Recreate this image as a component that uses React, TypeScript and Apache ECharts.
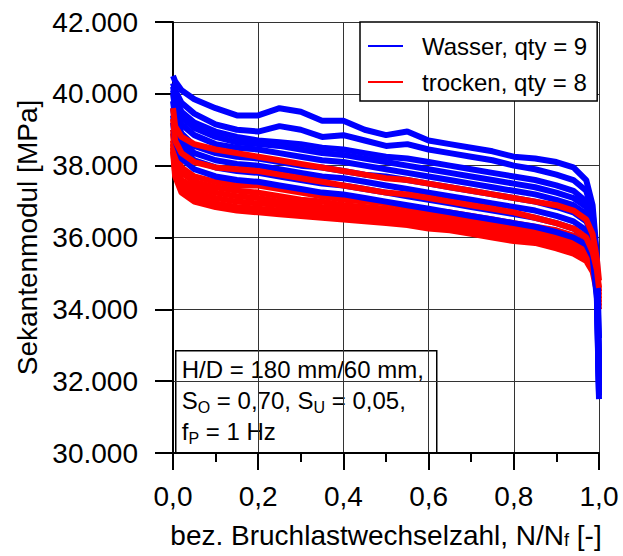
import React, { useEffect, useRef } from "react";
import * as echarts from "echarts";

// Relative load cycle N/Nf (x positions of read-off points)
const xPoints = [0, 0.005, 0.02, 0.05, 0.1, 0.15, 0.2, 0.25, 0.3, 0.35, 0.4, 0.45, 0.5, 0.55, 0.6, 0.65, 0.7, 0.75, 0.8, 0.85, 0.9, 0.94, 0.97, 0.985, 0.995, 1.0];

// Secant modulus in 1000 MPa – "Wasser" specimens (9)
const wasser1 = [40.5, 40.35, 40.1, 39.85, 39.6, 39.4, 39.4, 39.6, 39.5, 39.25, 39.25, 39.0, 38.85, 38.95, 38.7, 38.6, 38.5, 38.4, 38.25, 38.2, 38.1, 37.95, 37.6, 36.9, 35.5, 33.2];
const wasser2 = [40.3, 40.1, 39.75, 39.45, 39.15, 39.0, 38.95, 39.1, 39.0, 38.8, 38.85, 38.7, 38.55, 38.6, 38.45, 38.35, 38.25, 38.15, 38.0, 37.9, 37.75, 37.6, 37.3, 36.7, 35.3, 32.6];
const wasser3 = [40.2, 39.9, 39.5, 39.2, 38.95, 38.8, 38.7, 38.65, 38.6, 38.5, 38.45, 38.35, 38.25, 38.2, 38.1, 38.0, 37.9, 37.8, 37.7, 37.6, 37.45, 37.3, 37.0, 36.5, 35.2, 32.3];
const wasser4 = [40.1, 39.8, 39.35, 39.05, 38.8, 38.65, 38.6, 38.55, 38.45, 38.35, 38.3, 38.2, 38.1, 38.0, 37.9, 37.8, 37.7, 37.6, 37.5, 37.4, 37.25, 37.1, 36.85, 36.4, 35.1, 32.2];
const wasser5 = [40.0, 39.6, 39.15, 38.85, 38.6, 38.5, 38.45, 38.35, 38.25, 38.15, 38.1, 38.0, 37.9, 37.8, 37.7, 37.6, 37.5, 37.4, 37.3, 37.2, 37.05, 36.9, 36.65, 36.25, 35.0, 32.1];
const wasser6 = [39.8, 39.35, 38.9, 38.55, 38.35, 38.25, 38.2, 38.1, 38.0, 37.95, 37.85, 37.75, 37.7, 37.6, 37.5, 37.4, 37.3, 37.2, 37.1, 37.0, 36.85, 36.7, 36.45, 36.1, 34.8, 31.9];
const wasser7 = [39.6, 39.15, 38.7, 38.35, 38.15, 38.05, 38.0, 37.9, 37.8, 37.7, 37.65, 37.55, 37.45, 37.35, 37.25, 37.15, 37.05, 36.95, 36.85, 36.75, 36.6, 36.45, 36.2, 35.85, 34.6, 31.7];
const wasser8 = [39.4, 38.95, 38.5, 38.15, 37.95, 37.85, 37.8, 37.7, 37.6, 37.5, 37.45, 37.35, 37.25, 37.15, 37.05, 36.95, 36.85, 36.75, 36.65, 36.55, 36.4, 36.25, 36.0, 35.65, 34.4, 31.6];
const wasser9 = [39.2, 38.7, 38.2, 37.9, 37.7, 37.6, 37.55, 37.45, 37.35, 37.25, 37.2, 37.1, 37.0, 36.9, 36.8, 36.7, 36.6, 36.5, 36.4, 36.3, 36.15, 36.0, 35.8, 35.45, 34.3, 31.5];

// Secant modulus in 1000 MPa – "trocken" specimens (8)
const trocken1 = [39.6, 39.1, 38.8, 38.6, 38.45, 38.35, 38.25, 38.15, 38.05, 37.95, 37.85, 37.75, 37.65, 37.6, 37.5, 37.4, 37.3, 37.2, 37.1, 37.0, 36.9, 36.75, 36.5, 36.1, 35.4, 34.8];
const trocken2 = [39.3, 38.7, 38.35, 38.1, 37.95, 37.9, 37.85, 37.75, 37.65, 37.55, 37.45, 37.35, 37.25, 37.2, 37.1, 37.0, 36.9, 36.8, 36.7, 36.55, 36.4, 36.25, 36.0, 35.6, 35.1, 34.6];
const trocken3 = [39.0, 38.4, 37.95, 37.7, 37.55, 37.45, 37.45, 37.35, 37.25, 37.15, 37.05, 37.0, 36.95, 36.85, 36.75, 36.7, 36.6, 36.5, 36.4, 36.3, 36.2, 36.05, 35.85, 35.5, 35.0, 34.5];
const trocken4 = [38.9, 38.2, 37.8, 37.55, 37.4, 37.3, 37.25, 37.15, 37.05, 37.0, 36.9, 36.85, 36.8, 36.7, 36.65, 36.55, 36.5, 36.4, 36.3, 36.2, 36.05, 35.9, 35.7, 35.4, 34.9, 34.4];
const trocken5 = [38.7, 38.0, 37.6, 37.4, 37.25, 37.15, 37.1, 37.0, 36.95, 36.85, 36.8, 36.75, 36.7, 36.6, 36.55, 36.45, 36.4, 36.3, 36.2, 36.1, 35.95, 35.8, 35.6, 35.3, 34.8, 34.3];
const trocken6 = [38.6, 37.9, 37.5, 37.25, 37.1, 37.0, 36.95, 36.9, 36.8, 36.75, 36.7, 36.65, 36.6, 36.5, 36.45, 36.4, 36.3, 36.2, 36.1, 36.0, 35.85, 35.7, 35.5, 35.2, 34.7, 34.2];
const trocken7 = [38.5, 37.8, 37.35, 37.1, 36.95, 36.85, 36.8, 36.75, 36.7, 36.65, 36.6, 36.55, 36.5, 36.45, 36.35, 36.3, 36.2, 36.1, 36.0, 35.95, 35.8, 35.65, 35.45, 35.15, 34.6, 34.1];
const trocken8 = [38.4, 37.7, 37.25, 37.0, 36.85, 36.75, 36.7, 36.65, 36.6, 36.55, 36.5, 36.45, 36.4, 36.35, 36.25, 36.2, 36.1, 36.0, 35.9, 35.85, 35.7, 35.55, 35.35, 35.05, 34.5, 34.0];

// drawing order: lower "trocken" band, then all "Wasser", then the upper "trocken" curves
const trockenBelow = [trocken3, trocken4, trocken5, trocken6, trocken7, trocken8];
const wasserCurves = [wasser1, wasser2, wasser3, wasser4, wasser5, wasser6, wasser7, wasser8, wasser9];
const trockenAbove = [trocken1, trocken2];

const wasserName = "Wasser, qty = 9";
const trockenName = "trocken, qty = 8";

const FONT = "Arial, 'Liberation Sans', sans-serif";

export default function App() {
  const ref = useRef<HTMLDivElement>(null);

  useEffect(() => {
    if (!ref.current) return;
    const chart = echarts.init(ref.current, undefined, { renderer: "svg" });

    const mk = (name: string, color: string, ys: number[]) => ({
      name,
      type: "line",
      showSymbol: false,
      symbol: "none",
      data: xPoints.map((x, i) => [x, ys[i]]),
      lineStyle: { color, width: 6 },
      itemStyle: { color },
      emphasis: { disabled: true },
    });

    const series = [
      ...trockenBelow.map((c) => mk(trockenName, "#ff0000", c)),
      ...wasserCurves.map((c) => mk(wasserName, "#0000ff", c)),
      ...trockenAbove.map((c) => mk(trockenName, "#ff0000", c)),
    ];

    const subStyle = { fontSize: 16, fontFamily: FONT, color: "#000", verticalAlign: "bottom", lineHeight: 16 };
    const normStyle = { fontSize: 24, fontFamily: FONT, color: "#000", lineHeight: 31 };

    chart.setOption({
      animation: false,
      backgroundColor: "#fff",
      grid: { left: 173, right: 24, top: 22, bottom: 103, containLabel: false },
      legend: {
        left: 360,
        top: 22,
        orient: "vertical",
        selectedMode: false,
        backgroundColor: "#fff",
        borderColor: "#000",
        borderWidth: 1.5,
        borderRadius: 0,
        padding: [11, 10, 6, 8],
        itemGap: 10,
        itemWidth: 35,
        itemHeight: 2,
        icon: "rect",
        textStyle: { fontSize: 24, color: "#000", fontFamily: FONT, lineHeight: 26, padding: [0, 0, 0, 14] },
        data: [wasserName, trockenName],
        z: 20,
      },
      xAxis: {
        type: "value",
        min: 0,
        max: 1,
        interval: 0.2,
        name: "bez. Bruchlastwechselzahl, N/N{s|f} [-]",
        nameLocation: "middle",
        nameGap: 68,
        nameTextStyle: {
          fontSize: 28,
          fontFamily: FONT,
          color: "#000",
          verticalAlign: "top",
          rich: { s: { fontSize: 18, fontFamily: FONT, color: "#000", verticalAlign: "bottom", lineHeight: 16 } },
        },
        axisLine: { show: true, onZero: false, lineStyle: { color: "#000", width: 2 } },
        axisTick: { show: true, length: 17, lineStyle: { color: "#000", width: 2 } },
        minorTick: { show: true, splitNumber: 2, length: 9, lineStyle: { color: "#000", width: 2 } },
        axisLabel: {
          fontSize: 28,
          fontFamily: FONT,
          color: "#000",
          margin: 29,
          formatter: (v: number) => v.toFixed(1).replace(".", ","),
        },
        splitLine: { show: true, lineStyle: { color: "#333", width: 1 } },
      },
      yAxis: {
        type: "value",
        min: 30,
        max: 42,
        interval: 2,
        name: "Sekantenmodul [MPa]",
        nameLocation: "middle",
        nameGap: 128,
        nameRotate: 90,
        nameTextStyle: { fontSize: 28, fontFamily: FONT, color: "#000" },
        axisLine: { show: true, onZero: false, lineStyle: { color: "#000", width: 2 } },
        axisTick: { show: true, length: 18, lineStyle: { color: "#000", width: 2 } },
        axisLabel: {
          fontSize: 28,
          fontFamily: FONT,
          color: "#000",
          margin: 35,
          formatter: (v: number) => `${v}.000`,
        },
        splitLine: { show: true, lineStyle: { color: "#333", width: 1 } },
      },
      graphic: [
        {
          type: "group",
          left: 175,
          top: 350,
          z: 100,
          children: [
            {
              type: "rect",
              shape: { x: 0, y: 0, width: 261, height: 102 },
              style: { fill: "#fff", stroke: "#000", lineWidth: 1.5 },
            },
            {
              type: "text",
              x: 6,
              y: 3,
              style: {
                text: "{n|H/D = 180 mm/60 mm,}\n{n|S}{s|O}{n| = 0,70, S}{s|U}{n| = 0,05,}\n{n|f}{s|P}{n| = 1 Hz}",
                rich: { n: normStyle, s: subStyle },
                fontSize: 24,
                fontFamily: FONT,
                fill: "#000",
              },
            },
          ],
        },
      ],
      series,
    });

    return () => chart.dispose();
  }, []);

  return <div ref={ref} style={{ position: "fixed", left: 0, top: 0, width: 623, height: 556 }} />;
}
